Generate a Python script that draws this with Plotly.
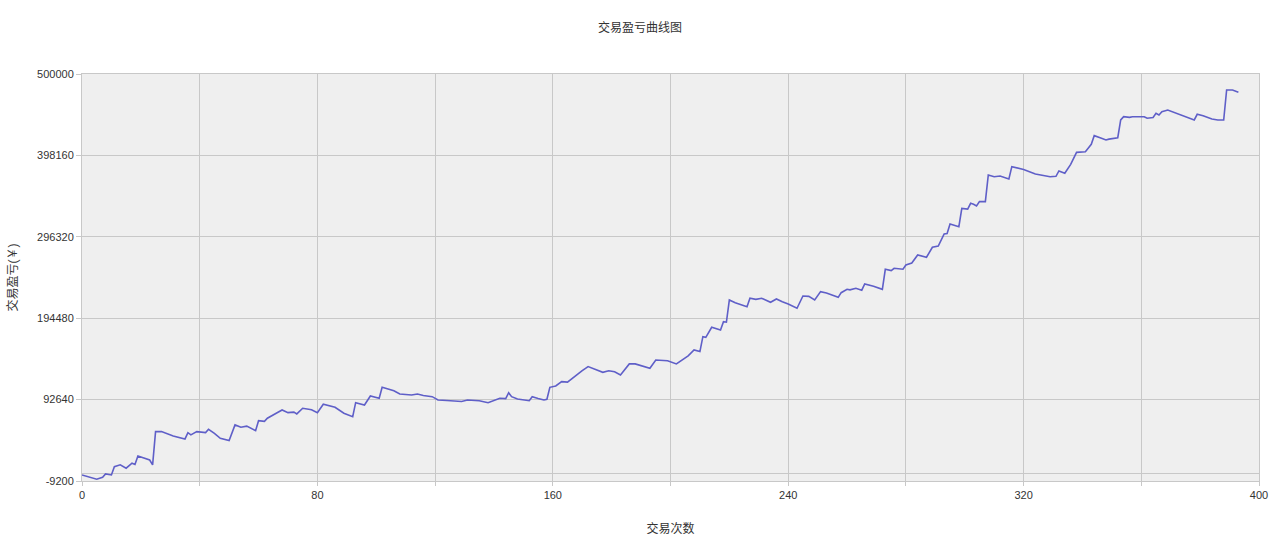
import plotly.graph_objects as go

# trade-by-trade equity curve
trade_no = [0, 5, 7, 8, 10, 11, 13, 15, 17, 18, 19, 21, 23, 24, 25, 27, 31, 35, 36, 37,
            39, 42, 43, 45, 47, 50, 52, 54, 56, 59, 60, 62, 63, 66, 68, 70, 72, 73, 75, 78,
            80, 82, 86, 89, 92, 93, 96, 98, 101, 102, 106, 108, 112, 114, 116, 119, 121, 124, 127, 129,
            131, 133, 135, 138, 140, 142, 144, 145, 146, 148, 152, 153, 155, 157, 158, 159, 161, 163, 165, 167,
            168, 170, 172, 175, 177, 179, 181, 183, 186, 188, 191, 193, 195, 199, 202, 205, 206, 208, 210, 211,
            212, 214, 215, 217, 218, 219, 220, 222, 226, 227, 229, 231, 234, 236, 238, 240, 243, 245, 247, 249,
            251, 253, 257, 258, 260, 261, 263, 265, 266, 269, 272, 273, 275, 276, 279, 280, 282, 284, 287, 289,
            291, 293, 294, 295, 298, 299, 301, 302, 303, 304, 305, 307, 308, 310, 312, 315, 316, 319, 320, 324,
            327, 329, 331, 332, 334, 336, 338, 341, 343, 344, 346, 348, 349, 352, 353, 354, 356, 357, 361, 362,
            364, 365, 366, 367, 369, 372, 375, 378, 379, 381, 384, 386, 388, 389, 391, 393]
profit = [-1700, -7000, -4500, -400, -1600, 8800, 11000, 6800, 13000, 11500, 22100, 19200, 17100, 11000, 52600, 52600, 47100, 43400, 51300, 48500,
          52600, 51300, 55500, 50500, 44300, 41300, 61000, 58100, 59500, 53800, 66300, 65500, 69300, 75600, 79700, 76300, 77000, 74700, 81800, 80000,
          76300, 86800, 83000, 75600, 71300, 88800, 85900, 97200, 94300, 108000, 103800, 99700, 98400, 99700, 97800, 96300, 92200, 91500, 90900, 90200,
          92200, 92200, 91300, 88800, 91300, 94300, 93800, 101300, 96300, 93400, 91300, 96300, 94000, 92200, 93000, 108000, 109700, 115100, 114500, 120600,
          123500, 128800, 133900, 129700, 126800, 128800, 127500, 123500, 137300, 137300, 134500, 131800, 142200, 141300, 137300, 145600, 147300, 154800, 152700, 171400,
          170500, 183100, 182000, 179700, 190200, 189500, 217300, 213900, 208900, 219400, 218000, 219400, 214400, 218500, 215100, 212300, 206900, 222300, 221800, 217300,
          227700, 226000, 220600, 226400, 230600, 230000, 231900, 229500, 237300, 234500, 230600, 255700, 254000, 256900, 255700, 261100, 263500, 273600, 270700, 283200,
          284800, 299800, 300500, 312400, 308900, 331900, 331000, 338200, 337000, 334900, 340300, 340300, 373600, 371500, 372400, 368600, 384100, 382000, 380500, 374900,
          372800, 371500, 372000, 378700, 375800, 387000, 402000, 402800, 412100, 422900, 420300, 417400, 418500, 420300, 442500, 446600, 445800, 446600, 446600, 444600,
          445500, 450800, 448800, 452800, 455000, 450800, 446600, 442500, 449600, 447800, 443700, 442500, 442500, 480000, 480000, 477100]

x_ticks = [0, 40, 80, 120, 160, 200, 240, 280, 320, 360, 400]
x_labels = ["0", "", "80", "", "160", "", "240", "", "320", "", "400"]
y_ticks = [-9200, 92640, 194480, 296320, 398160, 500000]
y_labels = ["-9200", "92640", "194480", "296320", "398160", "500000"]

grid = "#c8c8c8"
font_family = "Liberation Sans, Arial, Noto Sans CJK SC"

fig = go.Figure()
fig.add_trace(go.Scatter(
    x=trade_no,
    y=profit,
    mode="lines",
    line=dict(color="#5f5fc8", width=1.6),
    showlegend=False,
))

fig.update_layout(
    width=1280, height=546,
    margin=dict(l=82, r=14, t=74, b=64),
    paper_bgcolor="white",
    plot_bgcolor="#efefef",
    font=dict(family=font_family, size=11, color="#333333"),
    title=dict(text="交易盈亏曲线图", x=0.5, xanchor="center", y=1 - 28 / 546,
               yanchor="middle", font=dict(size=12, color="#333333")),
)

fig.update_xaxes(
    range=[0, 400], tickvals=x_ticks, ticktext=x_labels,
    showgrid=True, gridcolor=grid, gridwidth=1,
    showline=True, linecolor=grid, mirror=True, zeroline=False,
    ticks="outside", ticklen=4, tickcolor=grid,
    title=dict(text="交易次数", standoff=24, font=dict(size=12)),
)
fig.update_yaxes(
    range=[-9200, 500000], tickvals=y_ticks, ticktext=y_labels,
    showgrid=True, gridcolor=grid, gridwidth=1,
    zeroline=True, zerolinecolor=grid, zerolinewidth=1,
    showline=True, linecolor=grid, mirror=True,
    ticks="outside", ticklen=5, tickcolor=grid,
    title=dict(text="交易盈亏(￥)", standoff=16, font=dict(size=12)),
)

fig.write_html("out.html", config={"displayModeBar": False},
               post_script="document.body.style.margin='0';")
